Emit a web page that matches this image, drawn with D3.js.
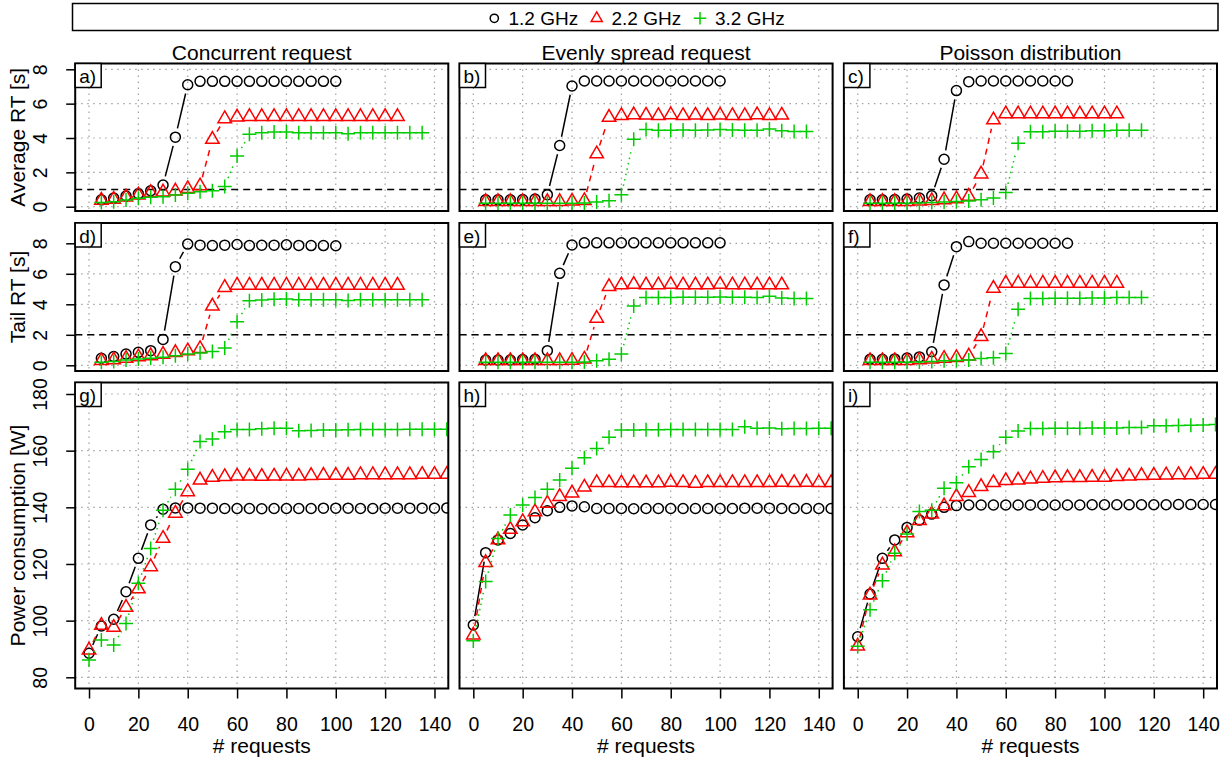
<!DOCTYPE html>
<html><head><meta charset="utf-8">
<script src="https://cdn.jsdelivr.net/npm/d3@7"></script>
<style>body{margin:0;background:#fff}svg{display:block}text{font-family:"Liberation Sans",Arial,Helvetica,sans-serif;fill:#000}</style>
</head><body><svg id="c" width="1231" height="760"></svg>
<script>
// ---------- data ----------
const colTitles = ["Concurrent request", "Evenly spread request", "Poisson distribution"];
const rowTitles = ["Average RT [s]", "Tail RT [s]", "Power consumption [W]"];
const freqLabels = ["1.2 GHz", "2.2 GHz", "3.2 GHz"];
const panelTags = [["a)", "b)", "c)"], ["d)", "e)", "f)"], ["g)", "h)", "i)"]];
const xTicks = [0, 20, 40, 60, 80, 100, 120, 140];
const rtTicks = [0, 2, 4, 6, 8];
const powTicks = [80, 100, 120, 140, 160, 180];
const rtThresholds = [1, 2];
const xLabel = "# requests";

const x5_100 = [5,10,15,20,25,30,35,40,45,50,55,60,65,70,75,80,85,90,95,100];
const x5_125 = [5,10,15,20,25,30,35,40,45,50,55,60,65,70,75,80,85,90,95,100,105,110,115,120,125];
const x5_135 = [5,10,15,20,25,30,35,40,45,50,55,60,65,70,75,80,85,90,95,100,105,110,115,120,125,130,135];
const x5_85 = [5,10,15,20,25,30,35,40,45,50,55,60,65,70,75,80,85];
const x5_105 = [5,10,15,20,25,30,35,40,45,50,55,60,65,70,75,80,85,90,95,100,105];
const x5_115 = [5,10,15,20,25,30,35,40,45,50,55,60,65,70,75,80,85,90,95,100,105,110,115];
const x0_145 = [0,5,10,15,20,25,30,35,40,45,50,55,60,65,70,75,80,85,90,95,100,105,110,115,120,125,130,135,140,145];

// Average RT, concurrent
const avgConc12 = [0.40,0.50,0.62,0.75,0.93,1.26,4.05,7.10,7.30,7.30,7.30,7.30,7.30,7.30,7.30,7.30,7.30,7.30,7.30,7.30];
const avgConc22 = [0.37,0.43,0.56,0.68,0.82,0.85,0.91,1.05,1.21,3.92,5.12,5.22,5.25,5.25,5.25,5.25,5.25,5.25,5.25,5.25,5.25,5.25,5.25,5.25,5.25];
const avgConc32 = [0.25,0.29,0.39,0.49,0.55,0.58,0.68,0.78,0.87,0.93,1.18,2.95,4.22,4.30,4.35,4.35,4.30,4.30,4.30,4.30,4.25,4.30,4.30,4.30,4.30,4.30,4.30];
// Average RT, evenly spread
const avgEven12 = [0.40,0.40,0.40,0.42,0.45,0.70,3.56,7.03,7.32,7.32,7.32,7.32,7.32,7.32,7.32,7.32,7.32,7.32,7.32,7.32];
const avgEven22 = [0.30,0.30,0.30,0.30,0.30,0.30,0.30,0.32,0.35,3.07,5.20,5.30,5.35,5.33,5.30,5.35,5.30,5.33,5.30,5.33,5.30,5.30,5.35,5.30,5.33];
const avgEven32 = [0.20,0.20,0.20,0.20,0.20,0.20,0.20,0.20,0.22,0.27,0.35,0.70,3.92,4.50,4.45,4.45,4.47,4.45,4.47,4.50,4.47,4.45,4.45,4.52,4.42,4.38,4.38];
// Average RT, Poisson
const avgPois12 = [0.40,0.40,0.42,0.45,0.50,0.64,2.76,6.76,7.28,7.32,7.32,7.32,7.32,7.32,7.32,7.32,7.32];
const avgPois22 = [0.30,0.30,0.30,0.30,0.32,0.35,0.40,0.45,0.60,1.90,5.05,5.40,5.40,5.40,5.40,5.40,5.40,5.40,5.40,5.40,5.40];
const avgPois32 = [0.20,0.20,0.20,0.20,0.22,0.25,0.28,0.30,0.33,0.40,0.50,0.82,3.69,4.37,4.37,4.40,4.40,4.40,4.42,4.42,4.45,4.45,4.45];

// Tail RT, concurrent
const tailConc12 = [0.46,0.57,0.74,0.85,0.96,1.70,6.47,7.95,7.88,7.85,7.88,7.92,7.85,7.87,7.88,7.90,7.86,7.85,7.85,7.84];
const tailConc22 = [0.30,0.35,0.45,0.55,0.62,0.72,0.83,0.94,1.09,3.88,5.10,5.25,5.25,5.25,5.25,5.25,5.25,5.25,5.25,5.25,5.25,5.25,5.25,5.25,5.25];
const tailConc32 = [0.20,0.25,0.35,0.42,0.46,0.52,0.63,0.74,0.80,0.90,1.13,2.85,4.24,4.28,4.33,4.35,4.30,4.30,4.30,4.30,4.25,4.30,4.30,4.30,4.30,4.30,4.30];
// Tail RT, evenly spread
const tailEven12 = [0.35,0.35,0.35,0.38,0.40,0.96,6.03,7.89,8.03,8.03,8.03,8.03,8.03,8.03,8.03,8.03,8.03,8.03,8.03,8.03];
const tailEven22 = [0.30,0.30,0.30,0.30,0.30,0.30,0.30,0.32,0.40,3.08,5.16,5.27,5.30,5.27,5.27,5.30,5.27,5.27,5.27,5.30,5.27,5.27,5.27,5.27,5.27];
const tailEven32 = [0.20,0.20,0.20,0.20,0.20,0.20,0.20,0.20,0.22,0.30,0.40,0.74,3.89,4.45,4.45,4.45,4.47,4.47,4.47,4.48,4.47,4.47,4.45,4.52,4.42,4.38,4.38];
// Tail RT, Poisson
const tailPois12 = [0.40,0.40,0.42,0.48,0.55,0.89,5.27,7.78,8.11,8.00,8.00,8.00,8.00,8.00,8.00,8.00,8.00];
const tailPois22 = [0.30,0.30,0.30,0.30,0.35,0.40,0.45,0.50,0.60,1.88,5.05,5.38,5.38,5.38,5.38,5.38,5.38,5.38,5.38,5.38,5.38];
const tailPois32 = [0.20,0.20,0.20,0.20,0.22,0.25,0.30,0.32,0.35,0.45,0.50,0.78,3.67,4.38,4.38,4.40,4.40,4.40,4.42,4.42,4.45,4.45,4.45];

// Power, concurrent
const powConc12 = [88.5,98.1,100.5,110.2,122.0,133.8,139.3,139.8,139.8,139.7,139.7,139.6,139.6,139.6,139.5,139.6,139.6,139.6,139.6,139.7,139.7,139.7,139.6,139.6,139.7,139.7,139.7,139.7,139.7,139.8];
const powConc22 = [89.6,98.3,97.6,104.7,111.2,119.0,129.0,137.9,145.5,149.6,150.6,150.8,151.0,151.0,150.9,151.0,151.0,151.0,151.2,151.3,151.3,151.3,151.5,151.5,151.5,151.5,151.5,151.6,151.6,151.6];
const powConc32 = [86.1,93.2,91.4,99.0,113.2,125.5,139.0,146.4,153.4,163.2,164.1,166.7,167.5,167.5,167.7,167.9,167.9,167.0,167.1,167.3,167.3,167.4,167.5,167.5,167.5,167.5,167.6,167.6,167.6,167.6];
// Power, evenly spread
const powEven12 = [98.5,124.0,128.5,130.8,133.8,136.3,138.8,140.0,140.5,140.2,139.6,139.6,139.6,139.5,139.6,139.6,139.6,139.6,139.6,139.6,139.6,139.6,139.7,139.7,139.7,139.6,139.6,139.6,139.6,139.6];
const powEven22 = [94.9,120.5,128.5,132.2,134.9,138.4,141.4,143.8,145.0,147.1,148.7,148.7,148.6,148.6,148.6,148.6,148.8,148.7,148.5,148.7,148.7,148.7,148.7,148.7,148.7,148.8,148.7,148.8,148.7,148.7];
const powEven32 = [92.9,113.8,129.0,137.3,140.8,143.5,146.4,149.6,153.8,157.5,160.8,164.7,167.3,167.3,167.4,167.4,167.5,167.5,167.5,167.5,167.5,167.5,168.4,167.9,168.0,167.7,167.8,167.8,167.9,167.9];
// Power, Poisson
const powPois12 = [94.3,109.4,122.0,128.5,132.9,135.5,137.6,140.0,140.6,140.8,140.8,140.8,140.8,140.8,140.8,140.8,140.8,140.8,140.8,140.9,140.9,140.9,140.9,140.9,140.9,140.9,141.0,141.0,141.0,141.0];
const powPois22 = [91.0,109.0,119.6,124.3,131.0,135.3,137.6,140.5,143.8,145.2,147.3,148.7,149.4,149.6,150.0,150.2,150.4,150.5,150.5,150.6,150.6,150.8,151.0,151.2,151.3,151.4,151.5,151.5,151.6,151.6];
const powPois32 = [91.0,103.8,114.1,123.8,130.6,138.5,139.0,146.7,148.7,154.3,156.9,159.6,164.7,166.9,167.8,167.8,167.9,167.9,167.9,168.0,168.0,168.0,168.2,168.2,168.8,168.8,168.9,169.0,169.1,169.2];

// ---------- assembly ----------
const panels = [
  [ [[x5_100,avgConc12],[x5_125,avgConc22],[x5_135,avgConc32]],
    [[x5_100,avgEven12],[x5_125,avgEven22],[x5_135,avgEven32]],
    [[x5_85,avgPois12],[x5_105,avgPois22],[x5_115,avgPois32]] ],
  [ [[x5_100,tailConc12],[x5_125,tailConc22],[x5_135,tailConc32]],
    [[x5_100,tailEven12],[x5_125,tailEven22],[x5_135,tailEven32]],
    [[x5_85,tailPois12],[x5_105,tailPois22],[x5_115,tailPois32]] ],
  [ [[x0_145,powConc12],[x0_145,powConc22],[x0_145,powConc32]],
    [[x0_145,powEven12],[x0_145,powEven22],[x0_145,powEven32]],
    [[x0_145,powPois12],[x0_145,powPois22],[x0_145,powPois32]] ]
];
const rowTicks = [rtTicks, rtTicks, powTicks];

// ---------- layout / style ----------
const svg = d3.select("#c");
const colLeft = [75.2, 459.5, 843.9], boxW = 373.1;
const rowBox = [[63.5, 211], [223, 371], [382.5, 688.5]];
const rowDom = [[0, 8], [0, 8], [80, 180]];
const rowRng = [[206.7, 69.3], [365.3, 243.3], [677.3, 394]];
const colors = ["#000000", "#ff0000", "#00cd00"];
const dashes = [null, "6,5", "1.5,4"];
const shapes = ["circle", "triangle", "plus"];
const GAP = 9;

function shapePath(shape, s) {
  const p = d3.path();
  if (shape === "circle") { p.moveTo(5 * s, 0); p.arc(0, 0, 5 * s, 0, 2 * Math.PI); p.closePath(); }
  else if (shape === "triangle") { p.moveTo(0, -7.78 * s); p.lineTo(6.73 * s, 3.89 * s); p.lineTo(-6.73 * s, 3.89 * s); p.closePath(); }
  else { p.moveTo(-7 * s, 0); p.lineTo(7 * s, 0); p.moveTo(0, -7 * s); p.lineTo(0, 7 * s); }
  return p.toString();
}

const defs = svg.append("defs");

for (let r = 0; r < 3; r++) {
  const y = d3.scaleLinear().domain(rowDom[r]).range(rowRng[r]);
  const [bt, bb] = rowBox[r];
  for (let c = 0; c < 3; c++) {
    const x0 = colLeft[c];
    const x = d3.scaleLinear().domain([-5.6, 145.6]).range([x0, x0 + boxW]);
    const id = "clip" + r + c;
    defs.append("clipPath").attr("id", id).append("rect")
      .attr("x", x0).attr("y", bt).attr("width", boxW).attr("height", bb - bt);
    const g = svg.append("g");
    const inner = g.append("g").attr("clip-path", `url(#${id})`);
    // grid
    inner.selectAll(".gv").data(xTicks).join("line")
      .attr("x1", d => x(d)).attr("x2", d => x(d)).attr("y1", bt).attr("y2", bb)
      .attr("stroke", "#a0a0a0").attr("stroke-width", 1.2).attr("stroke-dasharray", "1.5,4.5");
    inner.selectAll(".gh").data(rowTicks[r]).join("line")
      .attr("x1", x0).attr("x2", x0 + boxW).attr("y1", d => y(d)).attr("y2", d => y(d))
      .attr("stroke", "#a0a0a0").attr("stroke-width", 1.2).attr("stroke-dasharray", "1.5,4.5");
    // threshold
    if (r < 2) {
      inner.append("line").attr("x1", x0).attr("x2", x0 + boxW)
        .attr("y1", y(rtThresholds[r])).attr("y2", y(rtThresholds[r]))
        .attr("stroke", "#000").attr("stroke-width", 1.5).attr("stroke-dasharray", "7,5");
    }
    // series
    panels[r][c].forEach(([xs, ys], k) => {
      const pts = xs.map((v, i) => [x(v), y(ys[i])]);
      const segs = [];
      for (let i = 0; i < pts.length - 1; i++) {
        const [ax, ay] = pts[i], [bx, by] = pts[i + 1];
        const dx = bx - ax, dy = by - ay, L = Math.hypot(dx, dy);
        if (L > 2 * GAP) {
          const ux = dx / L, uy = dy / L;
          segs.push([ax + ux * GAP, ay + uy * GAP, bx - ux * GAP, by - uy * GAP]);
        }
      }
      const sl = inner.selectAll(null).data(segs).join("line")
        .attr("x1", d => d[0]).attr("y1", d => d[1]).attr("x2", d => d[2]).attr("y2", d => d[3])
        .attr("stroke", colors[k]).attr("stroke-width", 1.5);
      if (dashes[k]) sl.attr("stroke-dasharray", dashes[k]);
      inner.selectAll(null).data(pts).join("path")
        .attr("transform", d => `translate(${d[0]},${d[1]})`)
        .attr("d", shapePath(shapes[k], 1))
        .attr("fill", "none").attr("stroke", colors[k]).attr("stroke-width", 1.5);
    });
    // box
    g.append("rect").attr("x", x0).attr("y", bt).attr("width", boxW).attr("height", bb - bt)
      .attr("fill", "none").attr("stroke", "#000").attr("stroke-width", 2);
    // tag
    g.append("rect").attr("x", x0).attr("y", bt).attr("width", 26).attr("height", 24)
      .attr("fill", "#fff").attr("stroke", "#000").attr("stroke-width", 1.5);
    g.append("text").attr("x", x0 + 4).attr("y", bt + 19.5).attr("font-size", 19).text(panelTags[r][c]);

    // axes
    if (c === 0) {
      const ax = svg.append("g").attr("transform", `translate(${x0},0)`)
        .call(d3.axisLeft(y).tickValues(rowTicks[r]).tickSize(9).tickSizeOuter(0).tickFormat(d3.format("d")));
      ax.select(".domain").remove();
      ax.attr("font-family", null).attr("font-size", null);
      ax.selectAll(".tick line").attr("stroke-width", 1.5);
      ax.selectAll(".tick text").attr("transform", "rotate(-90)")
        .attr("x", 0).attr("y", -28.5).attr("dy", 0).attr("text-anchor", "middle")
        .attr("font-size", 19.5).attr("fill", "#000");
    }
    if (r === 2) {
      const ax = svg.append("g").attr("transform", `translate(0,${bb})`)
        .call(d3.axisBottom(x).tickValues(xTicks).tickSize(10).tickSizeOuter(0).tickFormat(d3.format("d")));
      ax.select(".domain").remove();
      ax.attr("font-family", null).attr("font-size", null);
      ax.selectAll(".tick line").attr("stroke-width", 1.5);
      ax.selectAll(".tick text").attr("y", 42.5).attr("dy", 0).attr("font-size", 19.5).attr("fill", "#000");
      svg.append("text").attr("x", x0 + boxW / 2).attr("y", 752.5).attr("text-anchor", "middle")
        .attr("font-size", 21).text(xLabel);
    }
    if (r === 0) {
      svg.append("text").attr("x", x0 + boxW / 2).attr("y", 59.5).attr("text-anchor", "middle")
        .attr("font-size", 21).text(colTitles[c]);
    }
  }
  svg.append("text").attr("transform", `translate(25,${(bt + bb) / 2}) rotate(-90)`)
    .attr("text-anchor", "middle").attr("font-size", 21).text(rowTitles[r]);
}

// legend
svg.append("rect").attr("x", 72.5).attr("y", 3.5).attr("width", 1145.5).attr("height", 27)
  .attr("fill", "#fff").attr("stroke", "#000").attr("stroke-width", 1.5);
const legMarkX = [494.3, 596.7, 700];
const legTextX = [508.5, 611.5, 715];
const legScale = [0.82, 0.82, 0.9];
freqLabels.forEach((lab, k) => {
  svg.append("path").attr("transform", `translate(${legMarkX[k]},18.3)`)
    .attr("d", shapePath(shapes[k], legScale[k]))
    .attr("fill", "none").attr("stroke", colors[k]).attr("stroke-width", 1.5);
  svg.append("text").attr("x", legTextX[k]).attr("y", 25).attr("font-size", 19).text(lab);
});
</script>
</body></html>
